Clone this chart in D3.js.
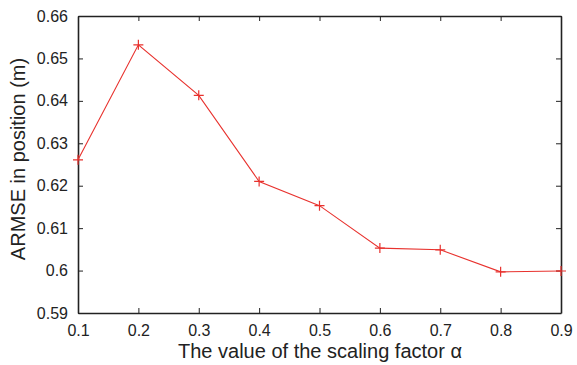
<!DOCTYPE html>
<html>
<meta charset="utf-8">
<title>ARMSE vs scaling factor</title>
<script src="https://d3js.org/d3.v7.min.js"></script>
<style>
  body { margin: 0; background: #fff; }
  text { font-family: "Liberation Sans", Arial, sans-serif; fill: #222; }
</style>
<body>
<script>
  var alphas = [0.1, 0.2, 0.3, 0.4, 0.5, 0.6, 0.7, 0.8, 0.9];
  var armse = [0.6261, 0.6532, 0.6413, 0.6210, 0.6153, 0.6053, 0.6049, 0.5997, 0.5999];
  var xTicks = [0.1, 0.2, 0.3, 0.4, 0.5, 0.6, 0.7, 0.8, 0.9];
  var yTicks = [0.59, 0.6, 0.61, 0.62, 0.63, 0.64, 0.65, 0.66];

  var width = 577, height = 365;
  var plotLeft = 78, plotRight = 561, plotTop = 16, plotBottom = 313;

  var svg = d3.select("body").append("svg").attr("width", width).attr("height", height);

  var xScale = d3.scaleLinear().domain([0.1, 0.9]).range([plotLeft, plotRight]);
  var yScale = d3.scaleLinear().domain([0.59, 0.66]).range([plotBottom, plotTop]);

  var fmt = function(d) { return String(+d.toFixed(2)); };

  // ticks inside the box on all four sides
  svg.append("g").attr("transform", "translate(0," + plotBottom + ")")
    .call(d3.axisBottom(xScale).tickValues(xTicks).tickSizeInner(-5).tickSizeOuter(0).tickPadding(12).tickFormat(fmt));
  svg.append("g").attr("transform", "translate(0," + plotTop + ")")
    .call(d3.axisTop(xScale).tickValues(xTicks).tickSizeInner(-5).tickSizeOuter(0).tickFormat(""));
  svg.append("g").attr("transform", "translate(" + plotLeft + ",0)")
    .call(d3.axisLeft(yScale).tickValues(yTicks).tickSizeInner(-5).tickSizeOuter(0).tickPadding(10).tickFormat(fmt));
  svg.append("g").attr("transform", "translate(" + plotRight + ",0)")
    .call(d3.axisRight(yScale).tickValues(yTicks).tickSizeInner(-5).tickSizeOuter(0).tickFormat(""));

  svg.selectAll(".domain").attr("stroke", "#222").attr("stroke-width", 1.6);
  svg.selectAll(".tick line").attr("stroke", "#222");
  svg.selectAll(".tick text").attr("font-size", 16).attr("fill", "#222")
    .attr("font-family", "'Liberation Sans', Arial, sans-serif");

  var line = d3.line()
    .x(function(d, i) { return xScale(alphas[i]); })
    .y(function(d) { return yScale(d); });

  svg.append("path")
    .datum(armse)
    .attr("fill", "none")
    .attr("stroke", "#e8322e")
    .attr("stroke-width", 1.1)
    .attr("d", line);

  svg.selectAll(".mark")
    .data(armse)
    .enter()
    .append("path")
    .attr("class", "mark")
    .attr("transform", function(d, i) { return "translate(" + xScale(alphas[i]) + "," + yScale(d) + ")"; })
    .attr("d", "M-5,0H5M0,-5V5")
    .attr("stroke", "#e8322e")
    .attr("stroke-width", 1.2);

  svg.append("text")
    .attr("x", 320)
    .attr("y", 358)
    .attr("text-anchor", "middle")
    .attr("font-size", 20)
    .text("The value of the scaling factor α");

  svg.append("text")
    .attr("transform", "translate(25,159) rotate(-90)")
    .attr("text-anchor", "middle")
    .attr("font-size", 20)
    .text("ARMSE in position (m)");
</script>
</body>
</html>
